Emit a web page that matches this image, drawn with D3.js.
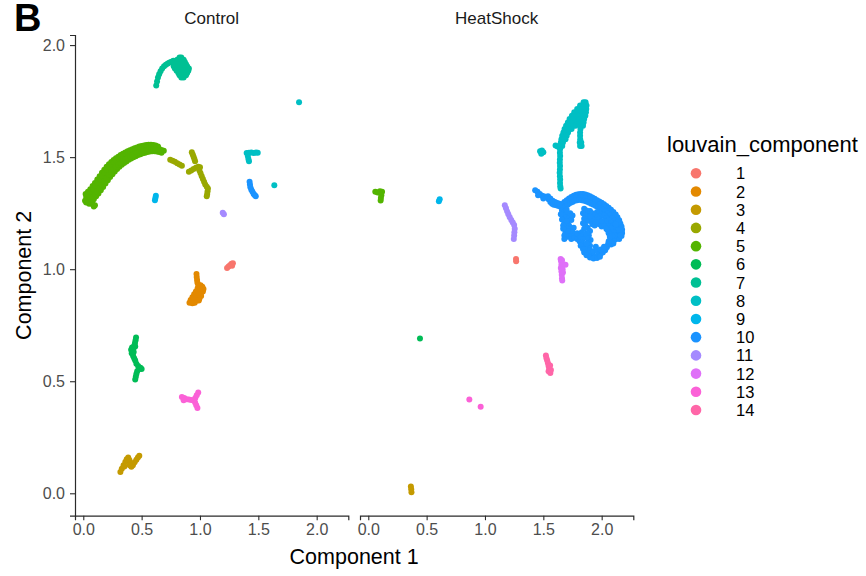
<!DOCTYPE html>
<html>
<head>
<meta charset="utf-8">
<script src="https://cdn.jsdelivr.net/npm/d3@7"></script>
<style>
  body { margin: 0; background: #fff; }
  svg { display: block; font-family: "Liberation Sans", Arial, Helvetica, sans-serif; }
</style>
</head>
<body>
<svg id="chart" width="866" height="576"></svg>
<script>
// Louvain components of cells in a 2-D embedding, faceted by condition.
const clusters = ["1","2","3","4","5","6","7","8","9","10","11","12","13","14"];
const palette = ["#F8766D","#E38900","#C49A00","#99A800","#53B400","#00BC56","#00C094",
                 "#00BFC4","#00B6EB","#1A93FF","#A58AFF","#DF70F8","#FB61D7","#FF66A8"];
const panels = ["Control", "HeatShock"];
const xTicks = [0, 0.5, 1, 1.5, 2];
const yTicks = [0, 0.5, 1, 1.5, 2];
const xLabel = "Component 1";
const yLabel = "Component 2";
const legendTitle = "louvain_component";

// ---- Control cells, [component 1, component 2] per cluster ----
const control1 = [[1.232,1.005],[1.245,1.012],[1.258,1.018],[1.270,1.024],[1.282,1.027],[1.275,1.015]];
const control2 = [[0.970,0.978],[0.972,0.965],[0.975,0.952],[0.978,0.940],
  [0.985,0.930],[1.005,0.928],[1.020,0.922],[1.030,0.912],[1.025,0.900],[1.010,0.895],[0.995,0.905],
  [0.980,0.915],[0.965,0.900],[0.950,0.888],[0.935,0.875],[0.920,0.862],[0.910,0.850],[0.930,0.855],
  [0.950,0.862],[0.965,0.870],[0.980,0.880],[0.995,0.885],[1.010,0.880],[0.995,0.868],[0.975,0.860],
  [0.955,0.850],[0.935,0.848],[0.945,0.875],[0.965,0.888],[0.985,0.895],[1.000,0.912],[0.990,0.860]];
const control3 = [[0.318,0.095],[0.330,0.110],[0.345,0.125],[0.360,0.140],[0.372,0.152],[0.385,0.160],
  [0.395,0.148],[0.405,0.132],[0.412,0.118],[0.425,0.125],[0.440,0.138],[0.455,0.150],[0.468,0.160],
  [0.480,0.168],[0.352,0.120],[0.398,0.125]];
const control4 = [[0.745,1.488],[0.765,1.484],[0.785,1.479],[0.805,1.473],[0.825,1.467],[0.845,1.462],
  [0.930,1.522],[0.938,1.512],[0.945,1.502],[0.952,1.492],[0.958,1.482],
  [0.905,1.435],[0.925,1.440],[0.945,1.447],[0.965,1.453],[0.985,1.457],[1.000,1.455],
  [0.995,1.440],[1.005,1.428],[1.015,1.415],[1.025,1.402],[1.035,1.390],[1.045,1.378],[1.058,1.368],
  [1.068,1.360],[1.065,1.348],[1.062,1.336],[1.058,1.325]];
const control5 = [
  [0.030,1.310],[0.050,1.318],[0.070,1.330],[0.090,1.342],[0.110,1.356],[0.130,1.370],[0.150,1.385],
  [0.170,1.400],[0.190,1.415],[0.210,1.430],[0.230,1.443],[0.250,1.455],[0.270,1.466],[0.290,1.476],
  [0.310,1.485],[0.330,1.493],[0.350,1.500],[0.370,1.506],[0.390,1.512],[0.410,1.517],[0.430,1.521],
  [0.450,1.525],[0.470,1.529],[0.490,1.532],[0.510,1.535],[0.530,1.537],[0.550,1.539],[0.570,1.540],
  [0.590,1.540],[0.610,1.539],[0.630,1.537],[0.650,1.535],[0.670,1.532],[0.690,1.529],
  [0.020,1.335],[0.040,1.345],[0.060,1.357],[0.080,1.371],[0.100,1.385],[0.120,1.400],[0.140,1.415],
  [0.160,1.430],[0.180,1.444],[0.200,1.457],[0.220,1.468],[0.240,1.478],[0.260,1.487],[0.280,1.495],
  [0.300,1.502],[0.320,1.509],[0.340,1.515],[0.360,1.521],[0.380,1.526],[0.400,1.531],[0.420,1.535],
  [0.440,1.540],[0.460,1.543],[0.480,1.547],[0.500,1.550],[0.520,1.552],[0.540,1.554],[0.560,1.555],
  [0.580,1.555],[0.600,1.554],[0.620,1.552],[0.640,1.548],
  [0.050,1.292],[0.070,1.300],[0.090,1.312],[0.110,1.325],[0.130,1.338],[0.150,1.352],[0.170,1.367],
  [0.190,1.382],[0.210,1.397],[0.230,1.411],[0.250,1.424],[0.270,1.436],[0.290,1.447],[0.310,1.457],
  [0.330,1.466],[0.350,1.474],[0.370,1.481],[0.390,1.488],[0.410,1.494],[0.430,1.499],[0.450,1.504],
  [0.470,1.509],[0.490,1.513],[0.510,1.517],[0.530,1.520],[0.550,1.523],[0.570,1.525],[0.590,1.526],
  [0.610,1.526],[0.630,1.525],[0.650,1.523],[0.670,1.520],
  [0.025,1.322],[0.045,1.331],[0.065,1.343],[0.085,1.356],[0.105,1.370],[0.125,1.385],[0.145,1.400],
  [0.165,1.415],[0.185,1.429],[0.205,1.443],[0.225,1.455],[0.245,1.466],[0.265,1.476],[0.285,1.485],
  [0.305,1.493],[0.325,1.501],[0.345,1.507],[0.365,1.513],[0.385,1.519],[0.405,1.524],[0.425,1.528],
  [0.445,1.532],[0.465,1.536],[0.485,1.539],[0.505,1.542],[0.525,1.544],[0.545,1.546],[0.565,1.547],
  [0.585,1.547],[0.605,1.546],[0.625,1.544],[0.645,1.541],
  [0.040,1.301],[0.060,1.309],[0.080,1.321],[0.100,1.333],[0.120,1.347],[0.140,1.361],[0.160,1.376],
  [0.180,1.391],[0.200,1.406],[0.220,1.420],[0.240,1.433],[0.260,1.445],[0.280,1.456],[0.300,1.466],
  [0.320,1.475],[0.340,1.483],[0.360,1.490],[0.380,1.497],[0.400,1.503],[0.420,1.508],[0.440,1.512],
  [0.460,1.517],[0.480,1.521],[0.500,1.524],[0.520,1.527],[0.540,1.530],[0.560,1.532],[0.580,1.533],
  [0.600,1.533],[0.620,1.532],[0.640,1.530],[0.660,1.527],
  [0.080,1.290],[0.090,1.280],[0.100,1.285],[0.015,1.305],[0.025,1.298],[0.040,1.300]];
const control6 = [[0.452,0.695],[0.448,0.683],[0.443,0.671],[0.437,0.659],[0.430,0.647],[0.425,0.635],
  [0.422,0.623],[0.428,0.612],[0.437,0.601],[0.445,0.592],[0.410,0.640],[0.415,0.625],[0.445,0.655],
  [0.455,0.578],[0.470,0.568],[0.490,0.560],[0.500,0.555],[0.475,0.553],[0.462,0.545],[0.455,0.532],
  [0.450,0.520],[0.445,0.508],[0.418,0.650],[0.432,0.630]];
const control7 = [[0.625,1.820],[0.632,1.838],[0.640,1.855],[0.650,1.870],[0.662,1.883],[0.676,1.895],
  [0.692,1.905],[0.708,1.912],[0.724,1.918],[0.740,1.922],[0.756,1.926],[0.772,1.930],
  [0.825,1.945],[0.840,1.945],
  [0.805,1.935],[0.825,1.935],[0.845,1.935],[0.860,1.935],
  [0.790,1.925],[0.810,1.925],[0.830,1.925],[0.850,1.925],[0.870,1.925],
  [0.780,1.915],[0.800,1.915],[0.820,1.915],[0.840,1.915],[0.860,1.915],[0.880,1.915],
  [0.775,1.905],[0.810,1.905],[0.830,1.905],[0.850,1.905],[0.870,1.905],[0.890,1.905],
  [0.785,1.895],[0.805,1.895],[0.825,1.895],[0.845,1.895],[0.865,1.895],[0.885,1.895],[0.905,1.895],
  [0.800,1.885],[0.820,1.885],[0.840,1.885],[0.860,1.885],[0.880,1.885],[0.900,1.885],
  [0.815,1.875],[0.835,1.875],[0.855,1.875],[0.875,1.875],[0.890,1.875],
  [0.825,1.865],[0.845,1.865],[0.865,1.865],[0.880,1.865],
  [0.840,1.855],[0.860,1.855]];
const control8 = [[1.400,1.518],[1.420,1.520],[1.440,1.521],[1.460,1.519],[1.480,1.521],[1.495,1.520],
  [1.410,1.505],[1.415,1.492],[1.420,1.482],[1.849,1.745],[1.637,1.375]];
const control9 = [[0.622,1.328],[0.618,1.318],[0.614,1.308]];
const control10 = [[1.425,1.390],[1.428,1.378],[1.432,1.366],[1.440,1.355],[1.450,1.345],[1.460,1.336],
  [1.470,1.330],[1.478,1.326]];
const control11 = [[1.195,1.252],[1.205,1.245]];
const control13 = [[0.845,0.430],[0.865,0.425],[0.885,0.420],[0.905,0.418],[0.925,0.416],[0.945,0.415],
  [0.960,0.425],[0.972,0.437],[0.985,0.450],[0.958,0.405],[0.968,0.393],[0.978,0.381],[0.860,0.415]];

// ---- HeatShock cells ----
const heat1 = [[1.266,1.045],[1.267,1.035]];
const heat3 = [[0.365,0.030],[0.368,0.018],[0.370,0.005]];
const heat5 = [[0.060,1.345],[0.080,1.342],[0.100,1.348],[0.118,1.345],[0.112,1.330],[0.108,1.318],[0.106,1.306]];
const heat6 = [[0.443,0.691]];
const heat8 = [
  [1.845,1.745],[1.862,1.745],
  [1.815,1.730],[1.835,1.730],[1.855,1.730],[1.870,1.730],
  [1.790,1.715],[1.810,1.715],[1.830,1.715],[1.850,1.715],[1.868,1.715],
  [1.765,1.700],[1.785,1.700],[1.805,1.700],[1.825,1.700],[1.845,1.700],[1.865,1.700],
  [1.745,1.685],[1.765,1.685],[1.785,1.685],[1.805,1.685],[1.825,1.685],[1.845,1.685],[1.860,1.685],
  [1.725,1.670],[1.745,1.670],[1.765,1.670],[1.785,1.670],[1.805,1.670],[1.825,1.670],[1.850,1.670],
  [1.710,1.655],[1.730,1.655],[1.750,1.655],[1.770,1.655],[1.790,1.655],[1.812,1.655],[1.845,1.655],
  [1.695,1.640],[1.715,1.640],[1.735,1.640],[1.755,1.640],[1.775,1.640],[1.822,1.640],[1.840,1.640],
  [1.682,1.625],[1.702,1.625],[1.722,1.625],[1.742,1.625],[1.818,1.625],
  [1.672,1.610],[1.692,1.610],[1.712,1.610],[1.815,1.610],
  [1.662,1.595],[1.682,1.595],[1.700,1.595],[1.815,1.595],
  [1.655,1.580],[1.672,1.580],[1.690,1.580],[1.816,1.580],
  [1.650,1.565],[1.668,1.565],[1.812,1.565],[1.825,1.565],
  [1.645,1.550],[1.662,1.550],[1.815,1.550],[1.828,1.550],
  [1.643,1.535],[1.642,1.520],[1.644,1.505],[1.642,1.490],[1.641,1.475],[1.643,1.460],[1.642,1.445],
  [1.640,1.430],[1.642,1.415],[1.644,1.400],[1.643,1.385],[1.645,1.370],[1.648,1.360],
  [1.622,1.548],[1.605,1.552],
  [1.472,1.526],[1.488,1.530],[1.500,1.522],[1.482,1.515]];
const heat9 = [[0.605,1.303],[0.612,1.312]];
const heat10 = [
  [1.430,1.352],[1.450,1.345],[1.470,1.335],[1.490,1.328],[1.510,1.324],[1.530,1.322],[1.545,1.312],
  [1.560,1.300],[1.575,1.292],[1.590,1.288],[1.610,1.285],[1.630,1.282],[1.650,1.278],
  [1.455,1.330],[1.500,1.315],[1.540,1.325],[1.560,1.315],[1.580,1.305],[1.600,1.300],[1.620,1.295],
  [1.640,1.292],[1.660,1.290],
  [1.680,1.300],[1.700,1.308],[1.720,1.315],[1.740,1.322],[1.760,1.328],[1.780,1.332],[1.800,1.334],
  [1.820,1.336],[1.840,1.335],[1.860,1.333],[1.880,1.330],[1.900,1.326],[1.920,1.320],[1.940,1.314],
  [1.960,1.308],[1.980,1.302],[2.000,1.296],[2.020,1.290],[2.040,1.282],[2.060,1.274],[2.080,1.265],
  [2.100,1.255],[2.120,1.244],[2.135,1.232],[2.150,1.218],[2.160,1.204],[2.170,1.190],[2.175,1.176],
  [2.175,1.162],[2.170,1.148],
  [1.700,1.295],[1.740,1.310],[1.780,1.320],[1.820,1.322],[1.860,1.318],[1.900,1.312],[1.940,1.300],
  [1.980,1.288],[2.020,1.276],[2.060,1.260],[2.100,1.240],[2.130,1.220],[2.160,1.190],[2.165,1.165],
  [1.670,1.272],[1.690,1.280],[1.710,1.288],[1.730,1.295],[1.750,1.300],[1.770,1.305],[1.790,1.308],
  [1.810,1.310],[1.830,1.308],[1.850,1.305],[1.870,1.302],[1.890,1.298],[1.910,1.292],[1.930,1.288],
  [1.950,1.282],[1.970,1.278],[1.990,1.272],[2.010,1.265],[2.030,1.258],[2.050,1.250],[2.070,1.240],
  [2.090,1.228],[2.110,1.216],[2.130,1.205],[2.145,1.192],[2.155,1.178],[2.155,1.162],[2.150,1.146],
  [1.960,1.255],[1.980,1.250],[2.000,1.245],[2.020,1.238],[2.040,1.228],[2.060,1.218],[2.080,1.205],
  [2.100,1.195],[2.120,1.182],[2.130,1.168],[2.135,1.152],[2.130,1.138],[2.110,1.130],[2.090,1.125],
  [2.070,1.128],[2.120,1.150],[2.140,1.175],[2.140,1.210],[2.120,1.200],
  [2.080,1.110],[2.100,1.115],[2.120,1.135],[2.150,1.135],[2.160,1.150],
  [2.040,1.200],[2.060,1.190],[2.080,1.180],[2.100,1.165],[2.110,1.150],[2.090,1.148],[2.060,1.160],
  [2.050,1.175],[2.070,1.145],
  [1.880,1.245],[1.900,1.215],[1.920,1.200],[1.940,1.225],[1.960,1.205],[1.980,1.235],[1.980,1.200],
  [2.000,1.190],[2.020,1.215],[2.020,1.195],[2.040,1.180],[1.940,1.195],[1.880,1.225],
  [1.880,1.185],[1.900,1.170],[1.890,1.150],[1.905,1.130],[1.885,1.120],[1.900,1.105],[1.875,1.160],
  [1.870,1.140],
  [1.660,1.262],[1.680,1.255],[1.700,1.250],[1.670,1.240],[1.690,1.232],[1.720,1.235],[1.660,1.222],
  [1.680,1.212],[1.710,1.215],[1.740,1.220],[1.690,1.198],[1.720,1.195],[1.700,1.182],[1.730,1.178],
  [1.760,1.185],[1.690,1.165],[1.720,1.160],[1.750,1.165],[1.680,1.150],[1.710,1.145],[1.740,1.148],
  [1.770,1.155],[1.800,1.150],
  [1.650,1.245],[1.700,1.265],[1.730,1.250],[1.750,1.240],[1.700,1.215],[1.670,1.195],[1.710,1.170],
  [1.740,1.135],[1.770,1.140],[1.790,1.135],[1.810,1.125],[1.790,1.160],[1.670,1.180],[1.680,1.135],
  [1.850,1.270],[1.870,1.262],[1.840,1.250],[1.860,1.240],[1.850,1.225],[1.870,1.215],[1.840,1.205],
  [1.860,1.195],[1.850,1.180],[1.830,1.165],[1.850,1.155],[1.820,1.145],[1.840,1.135],
  [1.900,1.260],[1.920,1.250],[1.940,1.240],[1.960,1.230],[1.980,1.222],[2.000,1.215],[1.920,1.225],
  [1.950,1.210],[1.900,1.235],
  [1.830,1.120],[1.850,1.105],[1.860,1.090],[1.870,1.078],[1.890,1.068],[1.910,1.062],[1.930,1.058],
  [1.950,1.058],[1.970,1.062],[1.990,1.068],[2.010,1.075],[2.030,1.085],[2.045,1.098],[2.055,1.112],
  [2.060,1.125],[1.880,1.095],[1.900,1.085],[1.930,1.080],[1.960,1.082],[1.990,1.088],[2.020,1.100],
  [1.870,1.115],[1.950,1.100],
  [1.820,1.105],[1.840,1.090],[1.850,1.075],[1.870,1.062],[1.900,1.052],[1.930,1.048],[1.960,1.050],
  [1.985,1.055]];
const heat11 = [[1.170,1.285],[1.180,1.272],[1.190,1.258],[1.200,1.245],[1.212,1.232],[1.225,1.220],
  [1.238,1.208],[1.250,1.197],[1.255,1.180],[1.252,1.165],[1.250,1.150],[1.247,1.135]];
const heat12 = [[1.652,1.035],[1.655,1.020],[1.650,1.005],[1.655,0.990],[1.658,0.975],[1.660,0.960],
  [1.662,0.950],[1.672,1.022],[1.690,1.020],[1.665,1.000],[1.668,0.985],[1.648,1.045],[1.660,1.040]];
const heat13 = [[0.866,0.419],[0.963,0.386]];
const heat14 = [[1.522,0.615],[1.527,0.603],[1.533,0.592],[1.540,0.580],[1.545,0.568],[1.550,0.556],
  [1.555,0.545],[1.560,0.537],[1.545,0.545],[1.565,0.550],[1.558,0.570]];

// Long table: one row per cell
const groups = [
  ["Control","1",control1],["Control","2",control2],["Control","3",control3],["Control","4",control4],
  ["Control","5",control5],["Control","6",control6],["Control","7",control7],["Control","8",control8],
  ["Control","9",control9],["Control","10",control10],["Control","11",control11],["Control","13",control13],
  ["HeatShock","1",heat1],["HeatShock","3",heat3],["HeatShock","5",heat5],["HeatShock","6",heat6],
  ["HeatShock","8",heat8],["HeatShock","9",heat9],["HeatShock","10",heat10],["HeatShock","11",heat11],
  ["HeatShock","12",heat12],["HeatShock","13",heat13],["HeatShock","14",heat14]];
const cells = groups.flatMap(([panel, cluster, pts]) =>
  pts.map(([x, y]) => ({ panel, cluster, x, y })));

const svg = d3.select("#chart");
svg.append("rect").attr("width", 866).attr("height", 576).attr("fill", "#fff");

const color = d3.scaleOrdinal().domain(clusters).range(palette);

// Layout
const panelLeft = { Control: 75, HeatShock: 360 };
const panelWidth = 273.3;
const panelTop = 35, panelBottom = 515.7;

const y = d3.scaleLinear().domain([-0.1, 2.045]).range([panelBottom, panelTop]);
const xFor = p => d3.scaleLinear().domain([-0.071, 2.271])
  .range([panelLeft[p], panelLeft[p] + panelWidth]);

const fmt = d3.format(".1f");
const axisColor = "#2b2b2b";

panels.forEach(p => {
  const x = xFor(p);
  const g = svg.append("g");

  // facet strip label
  g.append("text")
    .attr("x", panelLeft[p] + panelWidth / 2).attr("y", 24)
    .attr("text-anchor", "middle").attr("font-size", 17).attr("fill", "#1a1a1a")
    .text(p);

  // x axis
  const ax = g.append("g").attr("transform", `translate(0,${panelBottom})`)
    .call(d3.axisBottom(x).tickValues(xTicks).tickFormat(fmt).tickSizeOuter(0).tickSize(4.5).tickPadding(3.5));
  ax.select(".domain").attr("stroke", axisColor).attr("stroke-width", 1.2);
  ax.selectAll(".tick line").attr("stroke", axisColor).attr("stroke-width", 1.1);
  ax.selectAll(".tick text").attr("font-size", 16).attr("fill", "#4d4d4d")
    .attr("font-family", "Liberation Sans, Arial, sans-serif");

  // y axis only on the first panel
  if (p === "Control") {
    const ay = g.append("g").attr("transform", `translate(${panelLeft[p]},0)`)
      .call(d3.axisLeft(y).tickValues(yTicks).tickFormat(fmt).tickSizeOuter(0).tickSize(5).tickPadding(5));
    ay.select(".domain").attr("stroke", axisColor).attr("stroke-width", 1.2);
    ay.selectAll(".tick line").attr("stroke", axisColor).attr("stroke-width", 1.1);
    ay.selectAll(".tick text").attr("font-size", 16).attr("fill", "#4d4d4d")
      .attr("font-family", "Liberation Sans, Arial, sans-serif");
  }

  // cells
  g.append("g").selectAll("circle")
    .data(cells.filter(d => d.panel === p))
    .join("circle")
    .attr("cx", d => x(d.x)).attr("cy", d => y(d.y))
    .attr("r", 3)
    .attr("fill", d => color(d.cluster));
});

// axis titles
svg.append("text")
  .attr("x", (panelLeft.Control + panelLeft.HeatShock + panelWidth) / 2).attr("y", 564)
  .attr("text-anchor", "middle").attr("font-size", 21.5).attr("fill", "#000")
  .text(xLabel);
svg.append("text")
  .attr("transform", `translate(31,${(panelTop + panelBottom) / 2}) rotate(-90)`)
  .attr("text-anchor", "middle").attr("font-size", 21.5).attr("fill", "#000")
  .text(yLabel);

// panel tag
svg.append("text")
  .attr("x", 14).attr("y", 31)
  .attr("font-size", 38).attr("font-weight", "bold").attr("fill", "#000")
  .text("B");

// legend
const legend = svg.append("g");
legend.append("text")
  .attr("x", 667).attr("y", 151.5)
  .attr("font-size", 22).attr("fill", "#000")
  .text(legendTitle);
const keyY = d3.scalePoint().domain(clusters).range([173.3, 410]);
const item = legend.selectAll("g.key").data(clusters).join("g").attr("class", "key");
item.append("circle")
  .attr("cx", 696).attr("cy", d => keyY(d)).attr("r", 5.3)
  .attr("fill", d => color(d));
item.append("text")
  .attr("x", 736).attr("y", d => keyY(d) + 6)
  .attr("font-size", 16.5).attr("fill", "#000")
  .text(d => d);
</script>
</body>
</html>
